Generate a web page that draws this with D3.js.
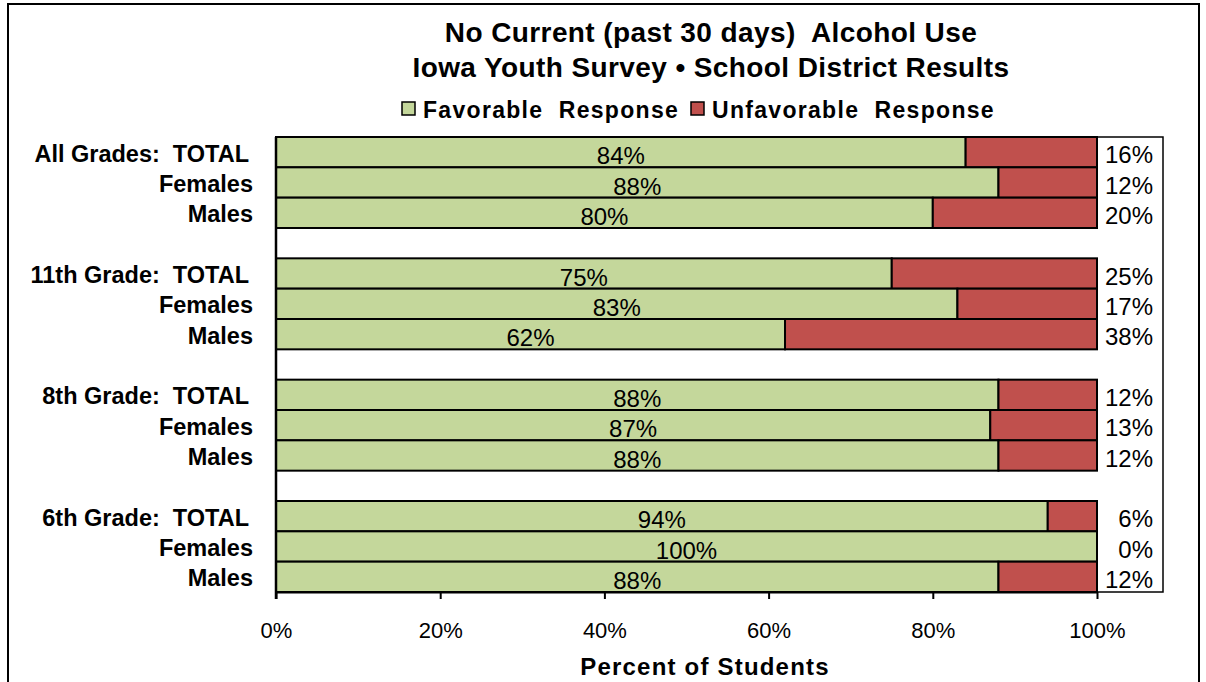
<!DOCTYPE html>
<html><head><meta charset="utf-8">
<script src="https://cdn.jsdelivr.net/npm/d3@7"></script>
<style>
html,body{margin:0;padding:0;background:#fff;}
svg{display:block;font-family:"Liberation Sans",Arial,sans-serif;}
</style></head>
<body>
<svg id="chart" width="1206" height="682"></svg>
<script>
const titleLines = ["No Current (past 30 days)  Alcohol Use", "Iowa Youth Survey \u2022 School District Results"];
const categories = ["All Grades:  TOTAL","Females","Males","11th Grade:  TOTAL","Females","Males","8th Grade:  TOTAL","Females","Males","6th Grade:  TOTAL","Females","Males"];
const favorable = [84,88,80,75,83,62,88,87,88,94,100,88];
const unfavorable = [16,12,20,25,17,38,12,13,12,6,0,12];
const seriesNames = ["Favorable  Response","Unfavorable  Response"];
const tickValues = [0,20,40,60,80,100];
const axisTitle = "Percent of Students";

(function(){
const colors = ["#C4D79B","#C0504D"];
const svg = d3.select("#chart");

svg.append("rect").attr("x",8).attr("y",4).attr("width",1191).attr("height",700)
  .attr("fill","none").attr("stroke","#000").attr("stroke-width",2);

const pLeft=276, pRight=1097, plotRight=1163, pTop=137, pBottom=592;
const x = d3.scaleLinear().domain([0,100]).range([pLeft,pRight]);
const slotKeys = [];
categories.forEach((c,i)=>{ if(i>0 && i%3===0) slotKeys.push("gap"+i); slotKeys.push("c"+i); });
const y = d3.scaleBand().domain(slotKeys).range([pTop,pBottom]).padding(0);
const key = i=>"c"+i;

svg.append("rect").attr("x",pLeft).attr("y",pTop).attr("width",plotRight-pLeft).attr("height",pBottom-pTop)
  .attr("fill","none").attr("stroke","#000").attr("stroke-width",1.5);

const g = svg.append("g");
categories.forEach((c,i)=>{
  const yy = y(key(i)), h = y.bandwidth();
  g.append("rect").attr("x",x(0)).attr("y",yy).attr("width",x(favorable[i])-x(0)).attr("height",h)
    .attr("fill",colors[0]).attr("stroke","#000").attr("stroke-width",2);
  if(unfavorable[i]>0){
    g.append("rect").attr("x",x(favorable[i])).attr("y",yy).attr("width",x(100)-x(favorable[i])).attr("height",h)
      .attr("fill",colors[1]).attr("stroke","#000").attr("stroke-width",2);
  }
});

categories.forEach((c,i)=>{
  const yy = y(key(i)) + y.bandwidth()/2;
  svg.append("text").attr("x",(x(0)+x(favorable[i]))/2).attr("y",yy+12)
    .attr("text-anchor","middle").attr("font-size",24).attr("fill","#000").text(favorable[i]+"%");
  svg.append("text").attr("x",1153).attr("y",yy+11)
    .attr("text-anchor","end").attr("font-size",24).attr("fill","#000").text(unfavorable[i]+"%");
});

categories.forEach((c,i)=>{
  const yy = y(key(i)) + y.bandwidth()/2;
  svg.append("text").attr("x", i%3===0 ? 249 : 253).attr("y",yy+9.5)
    .attr("text-anchor","end").attr("font-size",23.5).attr("font-weight","bold")
    .style("white-space","pre").attr("xml:space","preserve").text(c);
});

const xAxis = d3.axisBottom(x).tickValues(tickValues).tickFormat(d=>d+"%").tickSize(7).tickSizeOuter(0);
const ax = svg.append("g").attr("transform",`translate(0,${pBottom})`).call(xAxis);
ax.select(".domain").attr("stroke","#000").attr("stroke-width",2);
ax.selectAll(".tick line").attr("stroke","#000").attr("stroke-width",2);
ax.selectAll(".tick text").attr("font-size",22).attr("font-family","Liberation Sans, Arial, sans-serif").attr("fill","#000").attr("dy",0).attr("y",45.5);

svg.append("line").attr("x1",pLeft).attr("x2",pLeft).attr("y1",pTop).attr("y2",pBottom+7).attr("stroke","#000").attr("stroke-width",2.5);

svg.append("text").attr("x",705).attr("y",675).attr("text-anchor","middle").attr("font-size",24).attr("font-weight","bold")
  .attr("letter-spacing",1.2).text(axisTitle);

titleLines.forEach((t,i)=>{
  svg.append("text").attr("x",711).attr("y",41.5+i*35.5).attr("text-anchor","middle").attr("font-size",28).attr("font-weight","bold")
    .attr("letter-spacing",0.4).style("white-space","pre").attr("xml:space","preserve").text(t);
});

const legendX = [402, 691];
seriesNames.forEach((s,i)=>{
  svg.append("rect").attr("x",legendX[i]).attr("y",102).attr("width",13).attr("height",13)
    .attr("fill",colors[i]).attr("stroke","#000").attr("stroke-width",1.5);
  svg.append("text").attr("x",legendX[i]+21).attr("y",118).attr("font-size",23).attr("font-weight","bold")
    .attr("letter-spacing",1.3).style("white-space","pre").attr("xml:space","preserve").text(s);
});
})();
</script>
</body></html>
